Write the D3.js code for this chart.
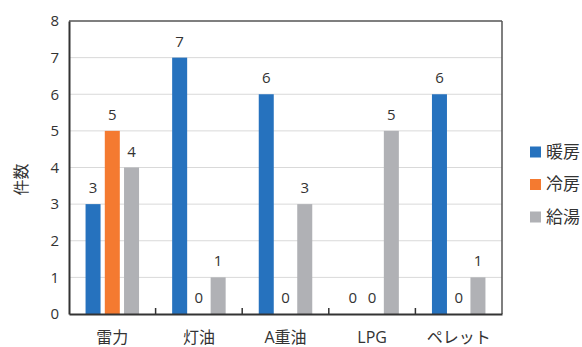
<!DOCTYPE html>
<html>
<head>
<meta charset="utf-8">
<script src="https://cdn.jsdelivr.net/npm/d3@7/dist/d3.min.js"></script>
<style>
  html, body { margin: 0; padding: 0; background: #fff; }
  svg text { font-family: "Open Sans", "Noto Sans CJK JP", sans-serif; fill: #333; }
</style>
</head>
<body>
<svg id="chart" width="582" height="347"></svg>
<script>
// Energy source categories and usage series
const categories = ["雷力", "灯油", "A重油", "LPG", "ペレット"];
const seriesNames = ["暖房", "冷房", "給湯"];
const heating = [3, 7, 6, 0, 6];
const cooling = [5, 0, 0, 0, 0];
const hotWater = [4, 1, 3, 5, 1];
const yTicks = [0, 1, 2, 3, 4, 5, 6, 7, 8];
const colors = ["#2672BE", "#F47A30", "#B0B1B5"];

const seriesValues = [heating, cooling, hotWater];
const rows = categories.map((c, i) => ({
  cat: c,
  vals: seriesNames.map((s, j) => ({ key: s, value: seriesValues[j][i] }))
}));

const svg = d3.select("#chart");
const plotLeft = 69, plotRight = 502, plotTop = 21, plotBottom = 314;

const x0 = d3.scaleBand().domain(categories).range([plotLeft, plotRight]).padding(0);
const x1 = d3.scaleBand().domain(seriesNames).range([0, x0.bandwidth()])
  .paddingInner(0.22).paddingOuter(0.86);
const y = d3.scaleLinear().domain([0, 8]).range([plotBottom, plotTop]);
const color = d3.scaleOrdinal().domain(seriesNames).range(colors);

// Horizontal gridlines
svg.append("g").selectAll("line").data(yTicks.filter(t => t > 0 && t < 8)).join("line")
  .attr("x1", plotLeft).attr("x2", plotRight)
  .attr("y1", d => y(d)).attr("y2", d => y(d))
  .attr("stroke", "#d9d9d9").attr("stroke-width", 1);

// Plot frame: top and right border
svg.append("line").attr("x1", plotLeft).attr("x2", plotRight).attr("y1", y(8)).attr("y2", y(8))
  .attr("stroke", "#555").attr("stroke-width", 1.5);
svg.append("line").attr("x1", plotRight).attr("x2", plotRight).attr("y1", y(8)).attr("y2", plotBottom)
  .attr("stroke", "#555").attr("stroke-width", 1.5);

// Bars
const groups = svg.append("g").selectAll("g").data(rows).join("g")
  .attr("transform", d => `translate(${x0(d.cat)},0)`);
groups.selectAll("rect").data(d => d.vals).join("rect")
  .attr("x", d => x1(d.key))
  .attr("width", x1.bandwidth())
  .attr("y", d => y(d.value))
  .attr("height", d => y(0) - y(d.value))
  .attr("fill", d => color(d.key));

// Value labels
groups.selectAll("text").data(d => d.vals).join("text")
  .attr("x", d => x1(d.key) + x1.bandwidth() / 2)
  .attr("y", d => y(d.value) - 11)
  .attr("text-anchor", "middle")
  .attr("font-size", 15)
  .text(d => d.value);

// Y axis
const yAxis = svg.append("g").attr("transform", `translate(${plotLeft},0)`)
  .call(d3.axisLeft(y).tickValues(yTicks).tickSize(0).tickPadding(10));
yAxis.select(".domain").attr("stroke", "#333").attr("stroke-width", 2);
yAxis.selectAll("text").attr("font-size", 15).attr("fill", "#333");

// X axis with small separators between categories
const xAxis = svg.append("g").attr("transform", `translate(0,${plotBottom})`)
  .call(d3.axisBottom(x0).tickSize(0).tickPadding(18));
xAxis.select(".domain").attr("stroke", "#333").attr("stroke-width", 2);
xAxis.selectAll("text").attr("font-size", 16).attr("fill", "#333");
svg.append("g").selectAll("line").data(categories.slice(1)).join("line")
  .attr("x1", d => x0(d)).attr("x2", d => x0(d))
  .attr("y1", plotBottom - 6).attr("y2", plotBottom)
  .attr("stroke", "#333").attr("stroke-width", 1.5);

// Y axis title
svg.append("text")
  .attr("transform", `translate(27,${(plotTop + plotBottom) / 2 + 12}) rotate(-90)`)
  .attr("text-anchor", "middle")
  .attr("font-size", 16)
  .attr("fill", "#555")
  .text("件数");

// Legend
const legend = svg.append("g").selectAll("g").data(seriesNames).join("g")
  .attr("transform", (d, i) => `translate(530,${152 + i * 32.5})`);
legend.append("rect").attr("x", 0).attr("y", -5.5).attr("width", 11).attr("height", 11)
  .attr("fill", d => color(d));
legend.append("text").attr("x", 16).attr("y", 0).attr("dy", "0.35em")
  .attr("font-size", 17).text(d => d);
</script>
</body>
</html>
